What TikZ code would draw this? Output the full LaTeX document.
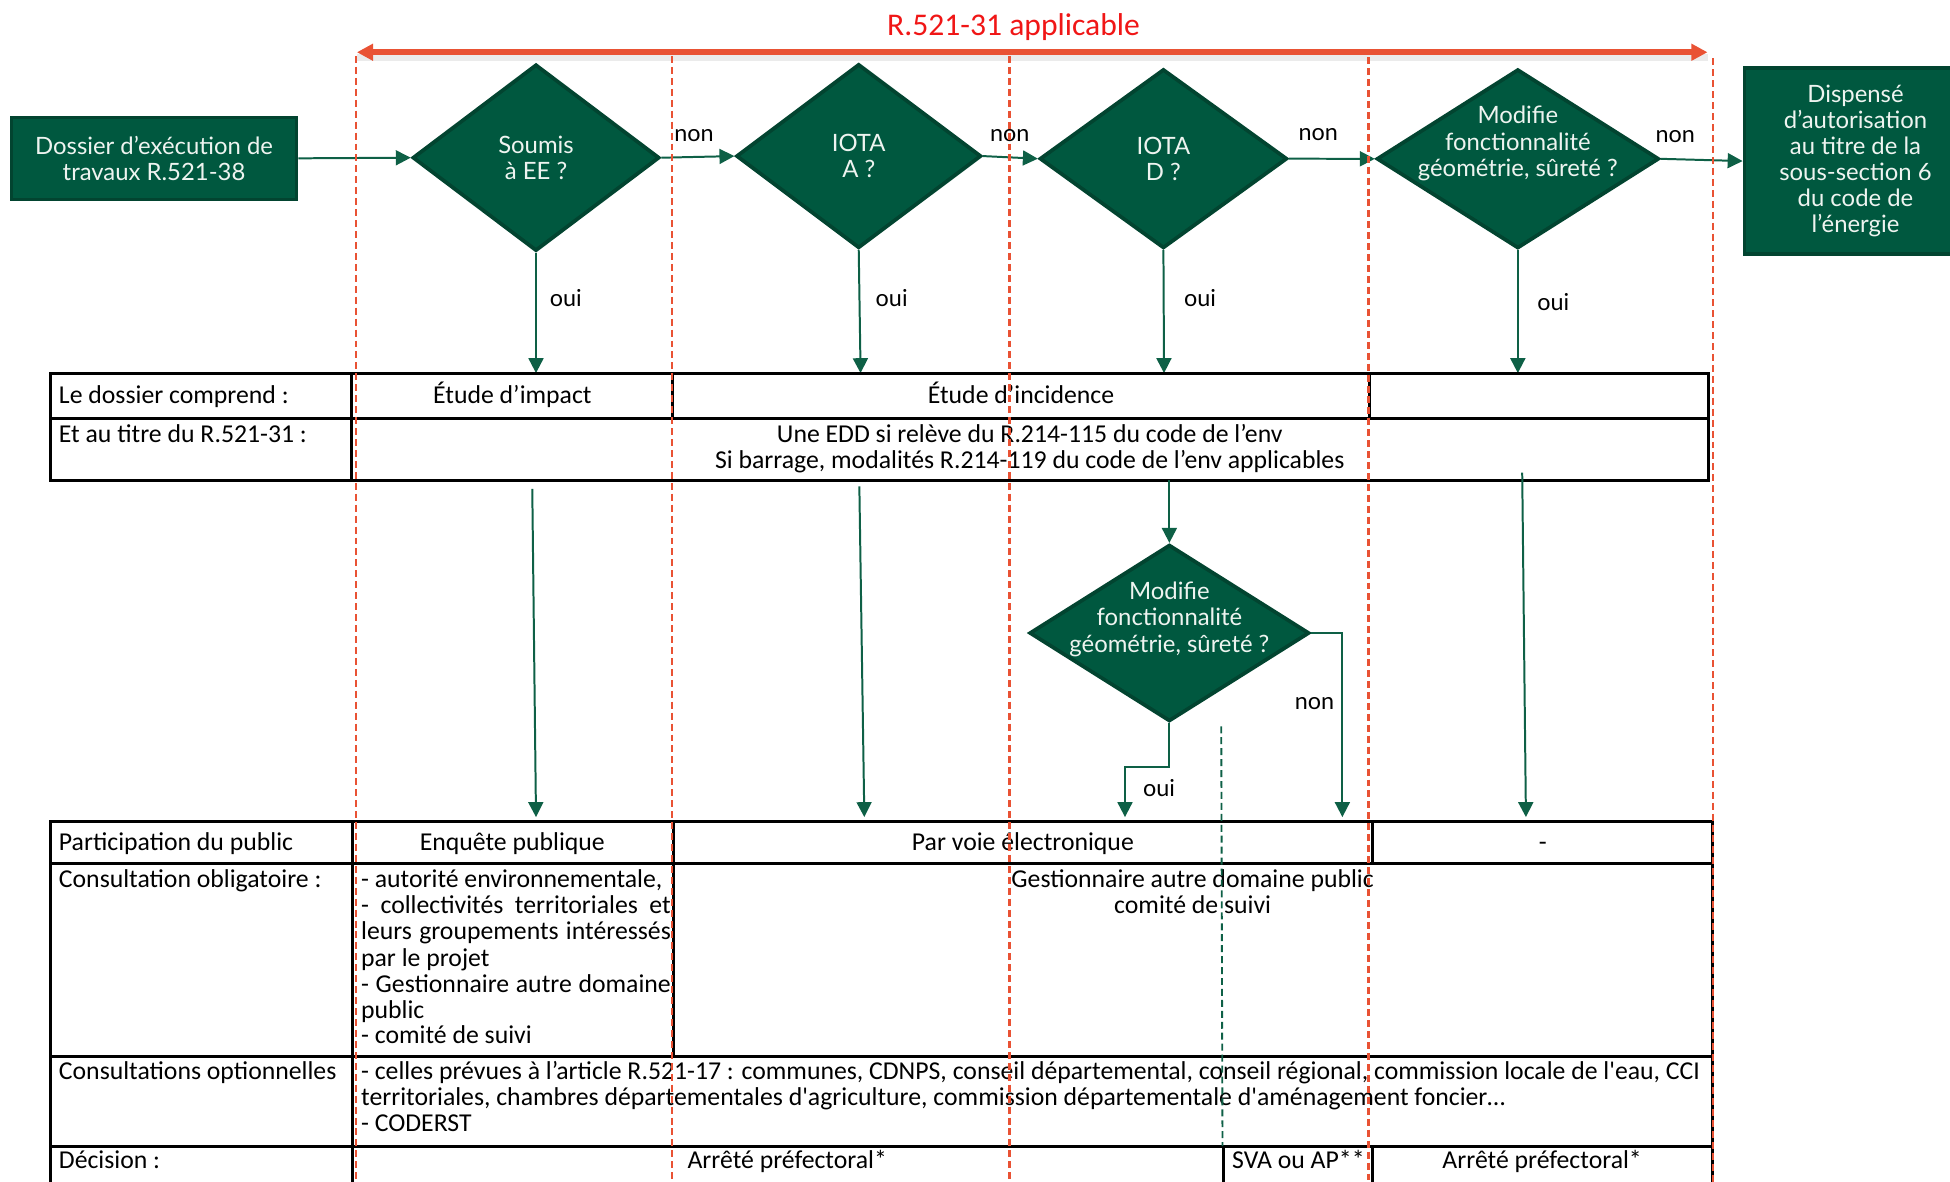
\documentclass[tikz,border=0pt]{standalone}
\usepackage{fontspec}
\setmainfont{Carlito}[Ligatures=TeXOff]
\newfontfamily\gfont{Lato}
\usetikzlibrary{arrows.meta,shapes.geometric}
\definecolor{dgreen}{RGB}{0,88,63}
\definecolor{dborder}{RGB}{2,68,48}
\definecolor{lgreen}{RGB}{14,96,70}
\definecolor{redline}{RGB}{233,82,52}
\definecolor{titlered}{RGB}{240,22,22}
\definecolor{boxtext}{RGB}{238,244,240}
\tikzset{
  gbox/.style={rectangle, draw=dborder, line width=1.3pt, fill=dgreen, inner sep=0pt, text=boxtext, align=center, font=\gfont\fontsize{9.6}{10.5}\selectfont},
  dia/.style={diamond, draw=dborder, line width=1.5pt, fill=dgreen, inner sep=0pt},
  dtxt/.style={inner sep=0pt, text=boxtext, align=center, font=\gfont\fontsize{9.6}{10.6}\selectfont},
  flow/.style={draw=lgreen, line width=0.8pt, -{Triangle[length=6pt,width=6pt]}},
  yn/.style={inner sep=0pt, anchor=mid, font=\gfont\fontsize{9.4}{11}\selectfont},
  cl/.style={inner sep=0pt, anchor=mid west, yshift=-1pt, font=\fontsize{10.35}{10.4}\selectfont},
  cc/.style={inner sep=0pt, anchor=mid, yshift=-1pt, font=\fontsize{10.35}{10.4}\selectfont},
  tgrid/.style={line width=1.2pt, draw=black},
  rdash/.style={draw=redline, line width=0.85pt, dash pattern=on 2.8pt off 1.6pt},
  gdash/.style={draw=lgreen, line width=0.75pt, dash pattern=on 2.8pt off 1.6pt},
}
\begin{document}
\begin{tikzpicture}[x=0.5pt,y=-0.5pt]
\useasboundingbox (0,0) rectangle (1568,950);
\clip (0,0) rectangle (1568,950);

% title and red arrow
\node[inner sep=0pt, text=titlered, font=\fontsize{12.7}{14}\selectfont] (title) at (815,22) {R.521-31 applicable};
\coordinate (ra) at (287,42);
\coordinate (rb) at (1373,42);
\draw[line width=2.8pt, black, opacity=0.08] ([yshift=-2pt]ra) -- ([yshift=-2pt]rb);
\draw[draw=redline, line width=2.3pt, {Triangle[length=6.5pt,width=6.5pt]}-{Triangle[length=6.5pt,width=6.5pt]}] (ra) -- (rb);

% boxes
\node[gbox, minimum width=114.85pt, minimum height=33pt] (dos) at (123.85,127.3) {Dossier d’exécution de\\travaux R.521-38};
\node[gbox, minimum width=89.5pt, minimum height=74.8pt] (disp) at (1492,129.5) {Dispensé\\d’autorisation\\au titre de la\\sous-section 6\\du code de\\l’énergie};

% diamonds
\node[dia, minimum width=99.25pt, minimum height=75pt] (d1) at (431,126.8) {};
\node[dtxt] (t1) at (d1.center) {Soumis\\à EE~?};
\node[dia, minimum width=98.5pt, minimum height=74pt] (d2) at (690.5,125.5) {};
\node[dtxt] (t2) at (d2.center) {IOTA\\A~?};
\node[dia, minimum width=99.5pt, minimum height=72pt] (d3) at (935.5,127.6) {};
\node[dtxt] (t3) at (d3.center) {IOTA\\D~?};
\node[dia, minimum width=113.5pt, minimum height=72pt] (d4) at (1220.5,127.7) {};
\node[dtxt] (t4) at (1220.5,115.5) {Modifie\\fonctionnalité\\géométrie, sûreté~?};
\node[dia, minimum width=112.5pt, minimum height=71pt] (d5) at (940.3,509) {};
\node[dtxt] (t5) at (940.3,498) {Modifie\\fonctionnalité\\géométrie, sûreté~?};

% horizontal flow
\draw[flow] (dos.east) -- (d1.west);
\draw[flow] (d1.east) -- (d2.west);
\draw[flow] (d2.east) -- (d3.west);
\draw[flow] (d3.east) -- (d4.west);
\draw[flow] (d4.east) -- (disp.west);
\node[yn] (n1) at (558,108.6) {non};
\node[yn] (n2) at (812,108.6) {non};
\node[yn] (n3) at (1060,108) {non};
\node[yn] (n4) at (1347,110) {non};

% down to table 1
\coordinate (a1) at (431,300);
\coordinate (a2) at (692,300);
\coordinate (a3) at (936,300);
\coordinate (a4) at (1220.5,300);
\draw[flow] (d1.south) -- (a1);
\draw[flow] (d2.south) -- (a2);
\draw[flow] (d3.south) -- (a3);
\draw[flow] (d4.south) -- (a4);
\node[yn] (o1) at (455,242) {oui};
\node[yn] (o2) at (717,242) {oui};
\node[yn] (o3) at (965,242) {oui};
\node[yn] (o4) at (1249,245) {oui};

% table 1
\draw[tgrid] (41,300.2) rectangle (1373.5,386);
\draw[tgrid] (41,336.4) -- (1373.5,336.4);
\draw[tgrid] (283,300.2) -- (283,386);
\draw[tgrid] (541,300.2) -- (541,336.4);
\draw[tgrid] (1101.5,300.2) -- (1101.5,336.4);
\node[cl] (l1) at (47,318) {Le dossier comprend :};
\node[cc] (e1) at (412,318) {Étude d’impact};
\node[cc] (e2) at (821,318) {Étude d’incidence};
\node[cl] (l2) at (47,349) {Et au titre du R.521-31 :};
\node[cc] (e3) at (828,349) {Une EDD si relève du R.214-115 du code de l’env};
\node[cc] (e4) at (828,370) {Si barrage, modalités R.214-119 du code de l’env applicables};

% middle connectors
\coordinate (m1s) at (428,393);
\coordinate (m1e) at (431,657);
\coordinate (m2s) at (691,391);
\coordinate (m2e) at (695,657);
\coordinate (m3s) at (940.3,386);
\coordinate (ob) at (904.6,616.5);
\coordinate (m5a) at (904.6,657);
\coordinate (nb) at (1079.4,657);
\coordinate (m4s) at (1224,380);
\coordinate (m4e) at (1227,657);
\draw[flow] (m1s) -- (m1e);
\draw[flow] (m2s) -- (m2e);
\draw[flow] (m3s) -- (d5.north);
\draw[flow] (d5.south) |- (ob) -- (m5a);
\draw[flow] (d5.east) -| (nb);
\draw[flow] (m4s) -- (m4e);
\node[yn] (o5) at (932,635.5) {oui};
\node[yn] (n5) at (1057,566) {non};

% table 2
\draw[tgrid] (41,960) -- (41,660.7) -- (1377,660.7) -- (1377,960);
\draw[tgrid] (41,694.2) -- (1377,694.2);
\draw[tgrid] (41,849.5) -- (1377,849.5);
\draw[tgrid] (41,921.5) -- (1377,921.5);
\draw[tgrid] (283.5,660.7) -- (283.5,960);
\draw[tgrid] (541.5,660.7) -- (541.5,849.5);
\draw[tgrid] (1104,660.7) -- (1104,694.2);
\draw[tgrid] (983.5,921.5) -- (983.5,960);
\draw[tgrid] (1104,921.5) -- (1104,960);

\node[cl] (p0) at (47,677) {Participation du public};
\node[cc] (p1) at (412,677) {Enquête publique};
\node[cc] (p2) at (822.5,677) {Par voie électronique};
\node[cc] (p3) at (1240.5,677) {-};

\node[cl] (c0) at (47,707) {Consultation obligatoire :};
\node[cl] (c1) at (290,707) {- autorité environnementale,};
\node[cl] (c2) at (290,728) {\makebox[124.5pt][s]{- collectivités territoriales et}};
\node[cl] (c3) at (290,749) {\makebox[124.5pt][s]{leurs groupements intéressés}};
\node[cl] (c4) at (290,770) {par le projet};
\node[cl] (c5) at (290,791) {\makebox[124.5pt][s]{- Gestionnaire autre domaine}};
\node[cl] (c6) at (290,812) {public};
\node[cl] (c7) at (290,832) {- comité de suivi};
\node[cc] (g1) at (959,707) {Gestionnaire autre domaine public};
\node[cc] (g2) at (959,728) {comité de suivi};

\node[cl] (f0) at (47,861) {Consultations optionnelles};
\node[cl] (f1) at (290,861) {- celles prévues à l’article R.521-17 : communes, CDNPS, conseil départemental, conseil régional, commission locale de l'eau, CCI};
\node[cl] (f2) at (290,882) {territoriales, chambres départementales d'agriculture, commission départementale d'aménagement foncier…};
\node[cl] (f3) at (290,903) {- CODERST};

\node[cl] (k0) at (47,933) {Décision :};
\node[cc] (k1) at (633,933) {Arrêté préfectoral*};
\node[cc] (k2) at (1044,933) {SVA ou AP**};
\node[cc] (k3) at (1240,933) {Arrêté préfectoral*};

% dashed guides
\draw[gdash] (982,584) -- (983,921.5);
\foreach \xx/\yy in {286.5/45, 540/45, 811.7/45, 1100.4/46, 1377.5/47}
  \draw[rdash] (\xx,\yy) -- (\xx,955);
\end{tikzpicture}
\end{document}
